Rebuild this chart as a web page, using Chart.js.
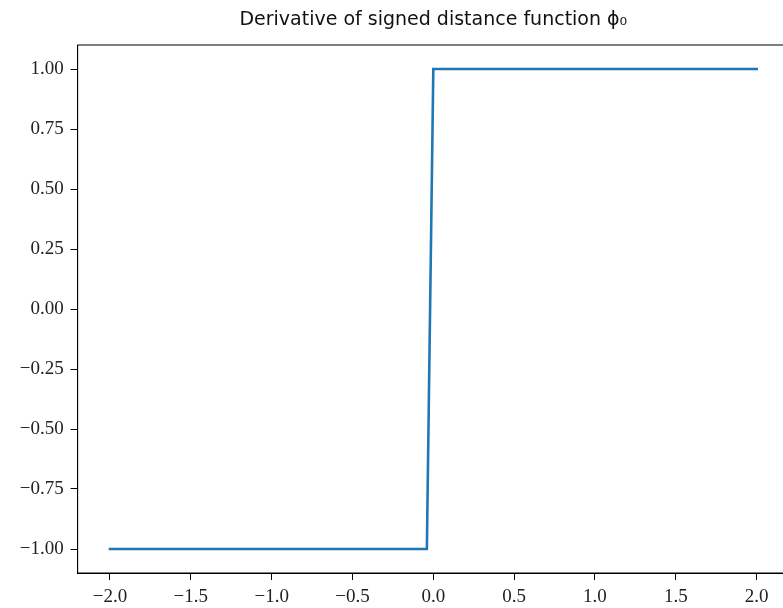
<!DOCTYPE html>
<html>
<head>
<meta charset="utf-8">
<script src="https://cdn.jsdelivr.net/npm/chart.js@4.4.1/dist/chart.umd.min.js"></script>
<style>
  html, body { margin: 0; padding: 0; background: #fff; overflow: hidden; }
  #wrap { width: 800px; height: 608px; }
</style>
</head>
<body>
<div id="wrap"><canvas id="derivChart" width="800" height="608"></canvas></div>
<script>
// step from -1 to 1 around the origin
const xValues = [-2.0, -0.04, 0.0, 2.0];
const yValues = [-1, -1, 1, 1];

const xTicks = [-2.0, -1.5, -1.0, -0.5, 0.0, 0.5, 1.0, 1.5, 2.0];
const yTicks = [-1.0, -0.75, -0.5, -0.25, 0.0, 0.25, 0.5, 0.75, 1.0];

const minus = s => s.replace('-', '\u2212');

// frame round the plot area (top and right spines)
const frame = {
    id: 'frame',
    afterDraw(chart) {
        const { ctx, chartArea: a } = chart;
        ctx.save();
        ctx.strokeStyle = '#000';
        ctx.lineWidth = 1;
        ctx.strokeRect(a.left, a.top, a.right - a.left, a.bottom - a.top);
        ctx.restore();
    }
};

const tickFont = { family: '"Liberation Serif", "DejaVu Serif", serif', size: 19 };

const ctx = document.getElementById('derivChart').getContext('2d');
const derivChart = new Chart(ctx, {
    type: 'scatter',
    data: {
        datasets: [{
            data: xValues.map((x, i) => ({ x: x, y: yValues[i] })),
            showLine: true,
            borderColor: '#1f77b4',
            borderWidth: 2.6,
            borderCapStyle: 'square',
            borderJoinStyle: 'miter',
            pointRadius: 0,
            tension: 0
        }]
    },
    options: {
        responsive: false,
        animation: false,
        devicePixelRatio: 1,
        layout: { padding: { left: 0, right: 11, top: 0, bottom: 0 } },
        plugins: {
            legend: { display: false },
            tooltip: { enabled: false },
            title: {
                display: true,
                fullSize: false,
                text: 'Derivative of signed distance function \u03d5\u2080',
                color: '#111',
                font: { family: '"DejaVu Sans", sans-serif', size: 19, weight: 'normal', lineHeight: 1.2 },
                padding: { top: 9, bottom: 13.2 }
            }
        },
        scales: {
            x: {
                type: 'linear',
                min: -2.2,
                max: 2.2,
                afterBuildTicks: s => { s.ticks = xTicks.map(v => ({ value: v })); },
                afterFit: s => { s.height = 35; },
                grid: { drawOnChartArea: false, drawTicks: true, tickLength: 7, color: '#000', tickWidth: 1 },
                border: { display: true, color: '#000', width: 1 },
                ticks: {
                    color: '#222',
                    font: tickFont,
                    padding: 6,
                    maxRotation: 0,
                    callback: v => minus(v.toFixed(1))
                }
            },
            y: {
                type: 'linear',
                min: -1.1,
                max: 1.1,
                afterBuildTicks: s => { s.ticks = yTicks.map(v => ({ value: v })); },
                afterFit: s => { s.width = 77.65; },
                grid: { drawOnChartArea: false, drawTicks: true, tickLength: 7, color: '#000', tickWidth: 1 },
                border: { display: true, color: '#000', width: 1 },
                ticks: {
                    color: '#222',
                    font: tickFont,
                    padding: 7,
                    callback: v => minus(v.toFixed(2))
                }
            }
        }
    },
    plugins: [frame]
});
</script>
</body>
</html>
